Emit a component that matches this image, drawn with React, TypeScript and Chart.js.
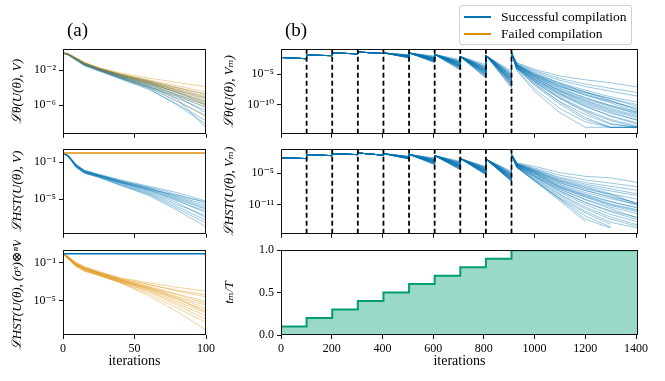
import React, { useEffect, useRef } from "react";
import { Chart, registerables } from "chart.js";
Chart.register(...registerables);

const SERIF = "'Liberation Serif', 'DejaVu Serif', serif";
const BLUE = "1, 115, 178";
const ORANGE = "222, 143, 5";
const GREEN = "2, 158, 115";

// ---------------- (a) left column: 100 iterations ----------------
const itersA = [0, 4, 9, 15, 25, 40, 60, 80, 100];
const xTicksA = [0, 50, 100];
const xTickLabelsA = ["0", "50", "100"];

// log10 of L_theta(U, V) at itersA — successful compilations
const lossA_theta_successful = [
  [0, -0.15, -0.6, -1.2, -1.8, -2.5, -3.3, -4.3, -5.2],
  [0, -0.2, -0.7, -1.3, -1.9, -2.7, -3.6, -4.8, -6.0],
  [-0.05, -0.25, -0.8, -1.4, -2.0, -2.9, -3.9, -5.2, -6.6],
  [0, -0.15, -0.65, -1.25, -1.85, -2.6, -3.5, -4.5, -5.6],
  [-0.05, -0.25, -0.75, -1.35, -1.95, -2.8, -4.0, -5.6, -7.2],
  [0, -0.2, -0.7, -1.3, -1.9, -2.75, -3.7, -4.9, -6.3],
  [0, -0.15, -0.6, -1.15, -1.75, -2.45, -3.2, -4.0, -4.8],
  [-0.05, -0.3, -0.85, -1.5, -2.1, -3.0, -4.2, -5.9, -7.8],
  [0, -0.2, -0.7, -1.3, -1.9, -2.7, -3.8, -5.3, -8.6],
  [0, -0.15, -0.65, -1.2, -1.8, -2.6, -3.4, -4.6, -5.9],
  [-0.05, -0.25, -0.75, -1.4, -2.0, -2.85, -3.9, -5.0, -6.9],
  [0, -0.2, -0.7, -1.35, -1.95, -2.9, -4.1, -6.0, -8.2],
];
// log10 of L_theta(U, V) at itersA — failed compilations
const lossA_theta_failed = [
  [0, -0.15, -0.55, -1.1, -1.7, -2.3, -2.9, -3.4, -3.9],
  [0, -0.15, -0.6, -1.15, -1.75, -2.4, -3.1, -3.8, -4.5],
  [-0.05, -0.2, -0.65, -1.2, -1.8, -2.5, -3.3, -4.2, -5.0],
  [0, -0.15, -0.6, -1.2, -1.8, -2.55, -3.4, -4.4, -5.3],
  [0, -0.25, -0.7, -1.3, -1.9, -2.65, -3.5, -4.6, -5.7],
  [-0.05, -0.2, -0.65, -1.25, -1.85, -2.6, -3.4, -4.3, -5.5],
  [0, -0.15, -0.6, -1.15, -1.75, -2.45, -3.2, -4.0, -4.7],
  [0, -0.25, -0.75, -1.35, -1.95, -2.8, -3.8, -5.0, -6.2],
  [-0.05, -0.2, -0.7, -1.3, -1.9, -2.7, -3.6, -4.8, -6.0],
  [0, -0.15, -0.6, -1.2, -1.8, -2.5, -3.3, -4.1, -5.1],
  [0, -0.25, -0.75, -1.4, -2.0, -2.9, -4.0, -5.5, -7.3],
  [-0.05, -0.2, -0.65, -1.25, -1.85, -2.6, -3.5, -4.5, -5.8],
];
// log10 of L_HST(U, V) — successful decay, failed stays flat
const lossA_hst_successful = [
  [0, -0.3, -1.2, -1.85, -2.3, -2.9, -3.6, -4.3, -5.2],
  [0, -0.35, -1.3, -1.95, -2.4, -3.0, -3.8, -4.7, -5.6],
  [0, -0.35, -1.3, -2.0, -2.45, -3.1, -3.9, -4.9, -6.0],
  [0, -0.45, -1.45, -2.1, -2.5, -3.2, -4.1, -5.2, -6.3],
  [0, -0.4, -1.4, -2.05, -2.5, -3.3, -4.3, -5.6, -6.8],
  [0, -0.4, -1.5, -2.15, -2.6, -3.4, -4.5, -6.0, -7.6],
  [0, -0.3, -1.25, -1.9, -2.35, -3.0, -3.7, -4.5, -5.4],
  [0, -0.45, -1.55, -2.2, -2.65, -3.5, -4.6, -6.2, -8.0],
  [0, -0.35, -1.3, -1.95, -2.4, -3.1, -4.0, -5.0, -6.1],
  [0, -0.4, -1.4, -2.1, -2.55, -3.25, -4.2, -5.4, -7.0],
  [0, -0.4, -1.45, -2.1, -2.5, -3.15, -3.9, -4.6, -5.3],
  [0, -0.4, -1.35, -2.0, -2.45, -3.2, -4.0, -5.1, -6.5],
  [0, -0.45, -1.5, -2.15, -2.6, -3.45, -4.4, -5.8, -7.3],
  [0, -0.35, -1.3, -1.95, -2.4, -3.05, -3.8, -4.8, -5.8],
];
const lossA_hst_failed_level = 0;
// log10 of L_HST(U, (sigma^x)^n V) — failed decay, successful stays flat
const lossA_hstx_failed = [
  [0, -0.4, -0.95, -1.4, -1.9, -2.6, -3.1, -3.6, -4.0],
  [0, -0.45, -1.05, -1.5, -2.0, -2.7, -3.3, -4.0, -4.6],
  [0, -0.45, -1.1, -1.55, -2.05, -2.75, -3.5, -4.3, -5.1],
  [0, -0.55, -1.2, -1.65, -2.1, -2.8, -3.6, -4.6, -5.5],
  [0, -0.55, -1.2, -1.7, -2.2, -2.9, -3.8, -4.9, -6.0],
  [0, -0.6, -1.25, -1.75, -2.25, -3.0, -4.0, -5.3, -6.6],
  [0, -0.4, -1.0, -1.45, -2.0, -2.65, -3.3, -3.9, -4.4],
  [0, -0.65, -1.35, -1.85, -2.3, -3.1, -4.3, -5.8, -7.3],
  [0, -0.5, -1.15, -1.6, -2.1, -2.85, -3.7, -4.7, -5.8],
  [0, -0.55, -1.25, -1.75, -2.2, -2.95, -3.9, -5.1, -6.3],
  [0, -0.7, -1.4, -1.9, -2.35, -3.1, -4.5, -6.2, -8.1],
  [0, -0.45, -1.1, -1.55, -2.05, -2.8, -3.6, -4.4, -5.3],
  [0, -0.55, -1.2, -1.65, -2.15, -2.9, -3.75, -4.8, -6.2],
  [0, -0.6, -1.3, -1.8, -2.3, -3.05, -4.1, -5.5, -7.0],
];
const lossA_hstx_successful_level = -0.05;

// y axes (a)
const yRangeA1 = [-9.29, 0.42];
const yTicksA1 = [1e-2, 1e-6];
const yTickLabelsA1 = ["10⁻²", "10⁻⁶"];
const yRangeA2 = [-8.75, 0.41];
const yTicksA2 = [1e-1, 1e-5];
const yTickLabelsA2 = ["10⁻¹", "10⁻⁵"];
const yRangeA3 = [-8.64, 0.33];
const yTicksA3 = [1e-1, 1e-5];
const yTickLabelsA3 = ["10⁻¹", "10⁻⁵"];

// ---------------- (b) right column: staged compilation ----------------
const stageIters = [0, 101, 202, 303, 404, 505, 606, 707, 808, 909];
const finalIters = [930, 1000, 1100, 1200, 1300, 1408];
const xMaxB = 1408;
const xTicksB = [0, 200, 400, 600, 800, 1000, 1200, 1400];
const xTickLabelsB = ["0", "200", "400", "600", "800", "1000", "1200", "1400"];
const tmOverT = [0.1, 0.2, 0.3, 0.4, 0.5, 0.6, 0.7, 0.8, 0.9, 1.0];

// L_theta(U, V_m): log10 at the start of each stage (shared), end of first 4 stages (shared)
const lossB_theta_stageStart = [-2.25, -1.85, -1.5, -1.35, -1.5, -1.5, -1.75, -2.1, -1.9, -1.5];
const lossB_theta_earlyEnd = [-2.45, -1.95, -1.65, -1.6];
// per-run ends of stages 5..9
const lossB_theta_lateEnd = [
  [-1.8, -2.0, -2.6, -3.4, -4.5],
  [-1.9, -2.2, -2.9, -3.8, -4.9],
  [-2.0, -2.4, -3.2, -4.2, -5.4],
  [-2.1, -2.6, -3.5, -4.6, -5.9],
  [-2.2, -2.8, -3.8, -5.0, -6.3],
  [-2.3, -3.0, -4.1, -5.4, -6.8],
  [-2.0, -2.5, -3.4, -4.4, -5.6],
  [-1.9, -2.3, -3.0, -3.9, -5.0],
  [-2.2, -2.7, -3.7, -4.9, -6.2],
  [-2.3, -3.1, -4.3, -5.6, -7.0],
  [-2.1, -2.5, -3.3, -4.3, -5.5],
  [-2.0, -2.4, -3.1, -4.0, -5.2],
  [-2.2, -2.9, -3.9, -5.1, -6.5],
  [-2.1, -2.6, -3.6, -4.7, -6.0],
  [-1.85, -2.1, -2.8, -3.6, -4.7],
  [-2.3, -3.0, -4.2, -5.5, -7.2],
  [-2.0, -2.5, -3.3, -4.5, -5.8],
  [-2.2, -2.8, -3.7, -4.8, -6.1],
  [-2.1, -2.7, -3.6, -4.6, -5.9],
  [-1.95, -2.3, -3.1, -4.1, -5.3],
  [-2.05, -2.55, -3.45, -4.5, -5.75],
  [-2.15, -2.75, -3.75, -4.95, -6.25],
  [-1.95, -2.35, -3.15, -4.15, -5.35],
  [-2.25, -2.95, -4.0, -5.3, -6.7],
  [-2.1, -2.65, -3.55, -4.65, -5.95],
  [-2.0, -2.45, -3.25, -4.3, -5.45],
  [-2.2, -2.85, -3.85, -5.15, -6.55],
  [-1.9, -2.25, -2.95, -3.85, -5.0],
];
// per-run values in the final stage at finalIters
const lossB_theta_final = [
  [-3.1, -4.2, -5.3, -5.9, -6.4, -7.1],
  [-3.3, -4.6, -6.0, -7.0, -7.8, -8.6],
  [-3.5, -5.1, -6.8, -8.0, -9.0, -10.0],
  [-3.7, -5.6, -7.6, -9.1, -10.3, -11.4],
  [-3.9, -6.1, -8.5, -10.3, -11.8, -13.0],
  [-4.1, -6.7, -9.5, -11.6, -13.2, -13.7],
  [-3.6, -5.4, -7.4, -8.9, -10.1, -11.2],
  [-3.4, -4.8, -6.4, -7.6, -8.7, -9.6],
  [-3.9, -6.0, -8.3, -10.0, -11.4, -12.5],
  [-4.3, -7.4, -10.6, -12.8, -13.7, -13.7],
  [-3.6, -5.3, -7.1, -8.4, -9.5, -10.6],
  [-3.5, -5.0, -6.6, -7.9, -9.3, -10.8],
  [-4.0, -6.4, -9.0, -11.0, -12.6, -13.7],
  [-3.8, -5.8, -7.9, -9.6, -11.0, -12.2],
  [-3.2, -4.4, -5.7, -6.6, -7.3, -8.0],
  [-4.4, -7.8, -11.3, -13.7, -13.7, -13.7],
  [-3.7, -5.5, -7.8, -9.4, -10.8, -12.0],
  [-3.9, -6.2, -8.8, -10.8, -12.4, -13.5],
  [-3.8, -5.9, -8.1, -9.8, -11.2, -12.6],
  [-3.5, -5.2, -7.0, -8.2, -9.4, -11.0],
  [-3.7, -5.6, -7.7, -9.3, -10.6, -11.8],
  [-3.9, -6.2, -8.9, -11.2, -13.1, -13.7],
  [-3.5, -5.1, -6.9, -8.4, -9.7, -11.3],
  [-4.1, -6.8, -9.9, -12.4, -13.7, -13.7],
  [-3.8, -5.8, -8.2, -10.2, -11.9, -13.2],
  [-3.6, -5.3, -7.3, -8.8, -10.2, -11.6],
  [-4.0, -6.5, -9.6, -12.1, -13.7, -13.7],
  [-3.4, -4.9, -6.5, -7.9, -9.0, -10.3],
];

// L_HST(U, V_m)
const lossB_hst_stageStart = [-2.08, -1.45, -1.26, -1.13, -1.26, -1.4, -1.64, -2.2, -2.3, -1.4];
const lossB_hst_earlyEnd = [-2.2, -1.64, -1.45, -1.55];
const lossB_hst_lateEnd = [
  [-1.75, -2.1, -2.7, -3.7, -4.6],
  [-1.85, -2.3, -3.0, -4.0, -5.0],
  [-1.95, -2.6, -3.3, -4.3, -5.4],
  [-2.05, -2.8, -3.6, -4.6, -5.8],
  [-2.15, -3.0, -3.9, -4.9, -6.2],
  [-2.25, -3.3, -4.3, -5.25, -6.5],
  [-2.0, -2.7, -3.5, -4.5, -5.6],
  [-1.9, -2.4, -3.1, -4.1, -5.1],
  [-2.15, -2.9, -3.8, -4.8, -6.0],
  [-2.25, -3.2, -4.2, -5.2, -6.4],
  [-2.0, -2.6, -3.4, -4.4, -5.5],
  [-1.95, -2.5, -3.2, -4.2, -5.3],
  [-2.2, -3.1, -4.0, -5.0, -6.3],
  [-2.1, -2.8, -3.7, -4.7, -5.9],
  [-1.8, -2.2, -2.85, -3.85, -4.8],
  [-2.3, -3.35, -4.3, -5.25, -6.5],
  [-2.05, -2.7, -3.5, -4.6, -5.7],
  [-2.15, -2.95, -3.85, -4.85, -6.1],
  [-2.1, -2.85, -3.7, -4.7, -5.9],
  [-1.9, -2.45, -3.15, -4.15, -5.2],
  [-2.05, -2.75, -3.55, -4.55, -5.75],
  [-2.15, -3.05, -3.95, -4.95, -6.25],
  [-1.95, -2.55, -3.25, -4.25, -5.35],
  [-2.25, -3.25, -4.2, -5.2, -6.45],
  [-2.1, -2.9, -3.75, -4.75, -5.95],
  [-2.0, -2.65, -3.45, -4.45, -5.55],
  [-2.2, -3.15, -4.1, -5.1, -6.35],
  [-1.85, -2.35, -2.95, -3.95, -4.95],
];
const lossB_hst_final: (number | null)[][] = [
  [-3.0, -3.7, -4.9, -5.6, -5.9, -6.8],
  [-3.2, -4.2, -5.8, -6.8, -7.5, -8.3],
  [-3.3, -4.6, -6.6, -8.0, -9.0, -10.0],
  [-3.5, -5.1, -7.5, -9.2, -10.5, -11.6],
  [-3.7, -5.6, -8.4, -10.6, -12.2, -13.5],
  [-3.9, -6.3, -9.8, -12.6, -14.8, null],
  [-3.4, -4.9, -7.1, -8.7, -9.9, -11.0],
  [-3.2, -4.4, -6.2, -7.4, -8.4, -9.3],
  [-3.6, -5.4, -8.0, -10.0, -11.5, -12.8],
  [-3.9, -6.5, -10.0, -13.8, -15.5, null],
  [-3.4, -4.8, -6.9, -8.3, -9.5, -10.7],
  [-3.3, -4.6, -6.5, -7.8, -9.2, -10.9],
  [-3.8, -6.0, -9.2, -11.8, -13.8, -15.2],
  [-3.6, -5.3, -7.8, -9.6, -11.2, -12.4],
  [-3.1, -4.0, -5.4, -6.3, -6.9, -7.6],
  [-3.9, -6.5, -10.3, -14.2, null, null],
  [-3.5, -5.0, -7.6, -9.3, -10.9, -12.0],
  [-3.7, -5.7, -8.7, -11.0, -12.9, -14.3],
  [-3.6, -5.5, -8.1, -10.1, -11.8, -13.6],
  [-3.3, -4.5, -6.4, -7.6, -8.9, -11.0],
  [-3.5, -5.1, -7.7, -9.5, -11.0, -12.2],
  [-3.8, -5.9, -9.0, -11.5, -13.4, -14.9],
  [-3.3, -4.7, -6.8, -8.3, -9.6, -11.2],
  [-3.9, -6.4, -9.9, -13.2, -15.3, null],
  [-3.6, -5.6, -8.4, -10.6, -12.4, -13.9],
  [-3.4, -4.9, -7.3, -9.0, -10.4, -11.7],
  [-3.8, -6.2, -9.5, -12.3, -14.4, -15.5],
  [-3.2, -4.3, -6.0, -7.1, -8.0, -9.0],
];

const yRangeB1 = [-14.76, -0.89];
const yTicksB1 = [1e-5, 1e-10];
const yTickLabelsB1 = ["10⁻⁵", "10⁻¹⁰"];
const yRangeB2 = [-16.6, -0.41];
const yTicksB2 = [1e-5, 1e-11];
const yTickLabelsB2 = ["10⁻⁵", "10⁻¹¹"];
const yTicksB3 = [0, 0.5, 1.0];
const yTickLabelsB3 = ["0.0", "0.5", "1.0"];

// ---------------- helpers ----------------
type Pt = { x: number; y: number | null };
const p10 = (v: number | null) => (v === null ? null : Math.pow(10, v));

function knotTrace(xs: number[], logs: (number | null)[]): Pt[] {
  return xs.map((x, i) => ({ x, y: p10(logs[i]) }));
}

function stagedTrace(
  starts: number[],
  earlyEnd: number[],
  lateEnd: number[],
  finals: (number | null)[]
): Pt[] {
  const ends = [...earlyEnd, ...lateEnd];
  const pts: Pt[] = [];
  for (let s = 0; s < ends.length; s++) {
    pts.push({ x: stageIters[s], y: p10(starts[s]) });
    pts.push({ x: stageIters[s + 1] - 1, y: p10(ends[s]) });
  }
  pts.push({ x: stageIters[stageIters.length - 1], y: p10(starts[starts.length - 1]) });
  finals.forEach((v, i) => pts.push({ x: finalIters[i], y: p10(v) }));
  return pts;
}

function lineDs(data: Pt[], color: string, width = 1, extra: any = {}) {
  return {
    data,
    borderColor: color,
    borderWidth: width,
    pointRadius: 0,
    tension: 0,
    fill: false,
    spanGaps: false,
    ...extra,
  };
}

function boundaryDs(yLog: number[]) {
  return stageIters.slice(1).map((b) =>
    lineDs(
      [
        { x: b, y: p10(yLog[0]) },
        { x: b, y: p10(yLog[1]) },
      ],
      "#000",
      1.8,
      { borderDash: [5, 3] }
    )
  );
}

const framePlugin = {
  id: "frame",
  afterDatasetsDraw(chart: any) {
    const { ctx, chartArea } = chart;
    const l = Math.round(chartArea.left) + 0.5;
    const t = Math.round(chartArea.top) + 0.5;
    const r = Math.round(chartArea.right) - 0.5;
    const b = Math.round(chartArea.bottom) - 0.5;
    ctx.save();
    ctx.strokeStyle = "#111";
    ctx.lineWidth = 1;
    ctx.strokeRect(l, t, r - l, b - t);
    ctx.restore();
  },
};

type AxisSpec = {
  xMin: number;
  xMax: number;
  xTicks: number[];
  xLabels: string[] | null;
  xTitle: string | null;
  xH: number;
  yType: "logarithmic" | "linear";
  yMin: number;
  yMax: number;
  yTicks: number[];
  yLabels: string[];
  yTitle: string;
  yW: number;
};

function buildConfig(datasets: any[], a: AxisSpec): any {
  const tickGrid = {
    display: true,
    drawOnChartArea: false,
    drawTicks: true,
    tickLength: 4,
    color: "#111",
    lineWidth: 1,
  };
  return {
    type: "line",
    data: { datasets },
    plugins: [framePlugin],
    options: {
      responsive: false,
      animation: false,
      devicePixelRatio: 1,
      events: [],
      layout: { padding: 0 },
      plugins: { legend: { display: false }, tooltip: { enabled: false }, title: { display: false } },
      scales: {
        x: {
          type: "linear",
          min: a.xMin,
          max: a.xMax,
          afterBuildTicks: (s: any) => {
            s.ticks = a.xTicks.map((v) => ({ value: v }));
          },
          afterFit: (s: any) => {
            s.height = a.xH;
          },
          ticks: {
            autoSkip: false,
            maxRotation: 0,
            padding: 3,
            color: "#000",
            font: { family: SERIF, size: 12 },
            callback: (_v: any, i: number) => (a.xLabels ? a.xLabels[i] : ""),
          },
          grid: tickGrid,
          border: { display: false },
          title: a.xTitle
            ? { display: true, text: a.xTitle, color: "#000", font: { family: SERIF, size: 14 }, padding: 0 }
            : { display: false },
        },
        y: {
          type: a.yType,
          min: a.yMin,
          max: a.yMax,
          afterBuildTicks: (s: any) => {
            s.ticks = a.yTicks.map((v) => ({ value: v }));
          },
          afterFit: (s: any) => {
            s.width = a.yW;
          },
          ticks: {
            autoSkip: false,
            padding: 3,
            color: "#000",
            font: { family: SERIF, size: 12 },
            callback: (_v: any, i: number) => a.yLabels[i],
          },
          grid: tickGrid,
          border: { display: false },
          title: {
            display: true,
            text: a.yTitle,
            color: "#000",
            font: { family: SERIF, size: 13, style: "italic" },
            padding: 0,
          },
        },
      },
    },
  };
}

type Rect = { l: number; t: number; w: number; h: number };

function Panel({ rect, config }: { rect: Rect; config: () => any }) {
  const ref = useRef<HTMLCanvasElement>(null);
  useEffect(() => {
    const canvas = ref.current!;
    let cw = Math.round(rect.w + 80);
    let ch = Math.round(rect.h + 50);
    const make = () => {
      canvas.width = cw;
      canvas.height = ch;
      canvas.style.width = cw + "px";
      canvas.style.height = ch + "px";
      return new Chart(canvas, config());
    };
    let chart = make();
    let ca = chart.chartArea;
    const dw = Math.round(rect.w - (ca.right - ca.left));
    const dh = Math.round(rect.h - (ca.bottom - ca.top));
    if (dw !== 0 || dh !== 0) {
      chart.destroy();
      cw += dw;
      ch += dh;
      chart = make();
      ca = chart.chartArea;
    }
    canvas.style.left = Math.round(rect.l - ca.left) + "px";
    canvas.style.top = Math.round(rect.t - ca.top) + "px";
    return () => chart.destroy();
  }, []);
  return <canvas ref={ref} style={{ position: "absolute" }} />;
}

// ---------------- layout ----------------
const LEFT_A = 63;
const W_A = 143;
const LEFT_B = 281;
const W_B = 357;
const ROW_T = [49, 149, 250];
const ROW_H = 85;
const YW_A = 53;
const YW_B = 59;

const blueA = (a: number) => `rgba(${BLUE}, ${a})`;
const orangeA = (a: number) => `rgba(${ORANGE}, ${a})`;

function cfgA1() {
  const ds: any[] = [];
  const n = Math.max(lossA_theta_successful.length, lossA_theta_failed.length);
  for (let i = 0; i < n; i++) {
    if (lossA_theta_failed[i]) ds.push(lineDs(knotTrace(itersA, lossA_theta_failed[i]), orangeA(0.4)));
    if (lossA_theta_successful[i]) ds.push(lineDs(knotTrace(itersA, lossA_theta_successful[i]), blueA(0.4)));
  }
  return buildConfig(ds, {
    xMin: 0, xMax: 100, xTicks: xTicksA, xLabels: null, xTitle: null, xH: 5,
    yType: "logarithmic", yMin: p10(yRangeA1[0])!, yMax: p10(yRangeA1[1])!,
    yTicks: yTicksA1, yLabels: yTickLabelsA1, yTitle: "ℒθ(U(θ), V)", yW: YW_A,
  });
}

function cfgA2() {
  const ds: any[] = [
    lineDs(knotTrace([itersA[0], itersA[itersA.length - 1]], [lossA_hst_failed_level, lossA_hst_failed_level]), `rgb(${ORANGE})`, 1.5),
    ...lossA_hst_successful.map((r) => lineDs(knotTrace(itersA, r), blueA(0.4))),
  ];
  return buildConfig(ds, {
    xMin: 0, xMax: 100, xTicks: xTicksA, xLabels: null, xTitle: null, xH: 5,
    yType: "logarithmic", yMin: p10(yRangeA2[0])!, yMax: p10(yRangeA2[1])!,
    yTicks: yTicksA2, yLabels: yTickLabelsA2, yTitle: "ℒHST(U(θ), V)", yW: YW_A,
  });
}

function cfgA3() {
  const ds: any[] = [
    lineDs(knotTrace([itersA[0], itersA[itersA.length - 1]], [lossA_hstx_successful_level, lossA_hstx_successful_level]), `rgb(${BLUE})`, 1.5),
    ...lossA_hstx_failed.map((r) => lineDs(knotTrace(itersA, r), orangeA(0.4))),
  ];
  return buildConfig(ds, {
    xMin: 0, xMax: 100, xTicks: xTicksA, xLabels: xTickLabelsA, xTitle: "iterations", xH: 35,
    yType: "logarithmic", yMin: p10(yRangeA3[0])!, yMax: p10(yRangeA3[1])!,
    yTicks: yTicksA3, yLabels: yTickLabelsA3, yTitle: "ℒHST(U(θ), (σˣ)⊗ⁿV)", yW: YW_A,
  });
}

function cfgB1() {
  const ds: any[] = [
    ...boundaryDs(yRangeB1),
    ...lossB_theta_lateEnd.map((late, i) =>
      lineDs(stagedTrace(lossB_theta_stageStart, lossB_theta_earlyEnd, late, lossB_theta_final[i]), blueA(0.4))
    ),
  ];
  return buildConfig(ds, {
    xMin: 0, xMax: xMaxB, xTicks: xTicksB, xLabels: null, xTitle: null, xH: 5,
    yType: "logarithmic", yMin: p10(yRangeB1[0])!, yMax: p10(yRangeB1[1])!,
    yTicks: yTicksB1, yLabels: yTickLabelsB1, yTitle: "ℒθ(U(θ), Vₘ)", yW: YW_B,
  });
}

function cfgB2() {
  const ds: any[] = [
    ...boundaryDs(yRangeB2),
    ...lossB_hst_lateEnd.map((late, i) =>
      lineDs(stagedTrace(lossB_hst_stageStart, lossB_hst_earlyEnd, late, lossB_hst_final[i]), blueA(0.4))
    ),
  ];
  return buildConfig(ds, {
    xMin: 0, xMax: xMaxB, xTicks: xTicksB, xLabels: null, xTitle: null, xH: 5,
    yType: "logarithmic", yMin: p10(yRangeB2[0])!, yMax: p10(yRangeB2[1])!,
    yTicks: yTicksB2, yLabels: yTickLabelsB2, yTitle: "ℒHST(U(θ), Vₘ)", yW: YW_B,
  });
}

function cfgB3() {
  const pts: Pt[] = stageIters.map((x, i) => ({ x, y: tmOverT[i] }));
  pts.push({ x: xMaxB, y: tmOverT[tmOverT.length - 1] });
  const ds: any[] = [
    lineDs(pts, `rgb(${GREEN})`, 2, {
      stepped: "before",
      fill: "origin",
      backgroundColor: `rgba(${GREEN}, 0.4)`,
    }),
  ];
  return buildConfig(ds, {
    xMin: 0, xMax: xMaxB, xTicks: xTicksB, xLabels: xTickLabelsB, xTitle: "iterations", xH: 35,
    yType: "linear", yMin: 0, yMax: 1,
    yTicks: yTicksB3, yLabels: yTickLabelsB3, yTitle: "tₘ/T", yW: YW_B,
  });
}

const legendItems = [
  { label: "Successful compilation", color: `rgb(${BLUE})` },
  { label: "Failed compilation", color: `rgb(${ORANGE})` },
];

export default function App() {
  return (
    <div
      style={{
        position: "absolute",
        left: 0,
        top: 0,
        width: 665,
        height: 381,
        overflow: "hidden",
        background: "#fff",
        fontFamily: SERIF,
      }}
    >
      <Panel rect={{ l: LEFT_A, t: ROW_T[0], w: W_A, h: ROW_H }} config={cfgA1} />
      <Panel rect={{ l: LEFT_A, t: ROW_T[1], w: W_A, h: ROW_H }} config={cfgA2} />
      <Panel rect={{ l: LEFT_A, t: ROW_T[2], w: W_A, h: ROW_H }} config={cfgA3} />
      <Panel rect={{ l: LEFT_B, t: ROW_T[0], w: W_B, h: ROW_H }} config={cfgB1} />
      <Panel rect={{ l: LEFT_B, t: ROW_T[1], w: W_B, h: ROW_H }} config={cfgB2} />
      <Panel rect={{ l: LEFT_B, t: ROW_T[2], w: W_B, h: ROW_H }} config={cfgB3} />
      <div style={{ position: "absolute", left: 67, top: 20, fontSize: 19, lineHeight: "20px", color: "#000" }}>(a)</div>
      <div style={{ position: "absolute", left: 285, top: 20, fontSize: 19, lineHeight: "20px", color: "#000" }}>(b)</div>
      <div
        style={{
          position: "absolute",
          left: 459,
          top: 5,
          width: 171,
          height: 38,
          border: "1px solid #d0d0d0",
          borderRadius: 3,
          background: "rgba(255,255,255,0.85)",
        }}
      >
        {legendItems.map((it, i) => (
          <div key={i} style={{ position: "absolute", left: 4, top: 3 + i * 17, height: 16, display: "flex", alignItems: "center" }}>
            <div style={{ width: 27, height: 1.5, background: it.color }} />
            <span style={{ marginLeft: 10, fontSize: 13.5, color: "#000", whiteSpace: "nowrap" }}>{it.label}</span>
          </div>
        ))}
      </div>
    </div>
  );
}
